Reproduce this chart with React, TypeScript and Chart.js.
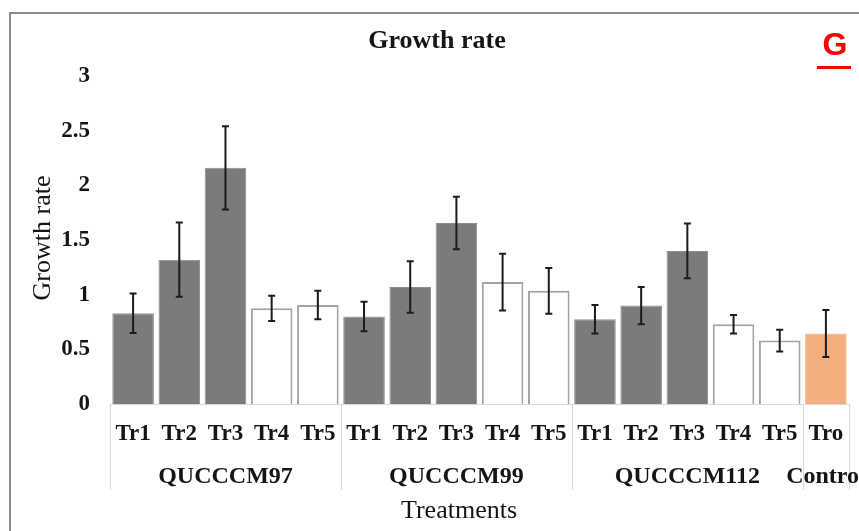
import React, { useEffect, useRef } from "react";
import { Chart, registerables } from "chart.js";

Chart.register(...registerables);

// Treatment labels along the first axis level
const treatments = [
  "Tr1", "Tr2", "Tr3", "Tr4", "Tr5",
  "Tr1", "Tr2", "Tr3", "Tr4", "Tr5",
  "Tr1", "Tr2", "Tr3", "Tr4", "Tr5",
  "Tro",
];

// Strain groups on the second axis level, and how many treatments each spans
const groups = ["QUCCCM97", "QUCCCM99", "QUCCCM112", "Control"];
const groupSizes = [5, 5, 5, 1];

// Mean growth rate per treatment
const growthRate = [
  0.83, 1.32, 2.16, 0.875, 0.905,
  0.8, 1.07, 1.655, 1.115, 1.035,
  0.775, 0.9, 1.4, 0.73, 0.58,
  0.645,
];

// Error (± half-range) per treatment
const growthError = [
  0.18, 0.34, 0.38, 0.115, 0.13,
  0.135, 0.235, 0.24, 0.26, 0.21,
  0.13, 0.17, 0.25, 0.085, 0.1,
  0.215,
];

// Bar style kinds: filled, open, control
const barKinds = [
  "fill", "fill", "fill", "open", "open",
  "fill", "fill", "fill", "open", "open",
  "fill", "fill", "fill", "open", "open",
  "control",
];

const yTicks = [0, 0.5, 1, 1.5, 2, 2.5, 3];

const SERIF = "'Liberation Serif', 'Times New Roman', serif";
const SANS = "'Liberation Sans', Arial, sans-serif";

const fillFor = (k: string) =>
  k === "fill" ? "#7b7b7b" : k === "open" ? "#ffffff" : "#f4ad7c";
const borderFor = (k: string) =>
  k === "fill" ? "#8e8e8e" : k === "open" ? "#a3a3a3" : "#f4ad7c";
const borderWidthFor = (k: string) => (k === "open" ? 2 : 1);

const errorBarsPlugin = {
  id: "errorBars",
  afterDatasetsDraw(chart: any) {
    const { ctx } = chart;
    const yScale = chart.scales.y;
    const meta = chart.getDatasetMeta(0);
    ctx.save();
    ctx.strokeStyle = "#1c1c1c";
    ctx.lineWidth = 2;
    meta.data.forEach((bar: any, i: number) => {
      const v = growthRate[i];
      const e = growthError[i];
      const yTop = yScale.getPixelForValue(v + e);
      const yBot = yScale.getPixelForValue(v - e);
      const x = bar.x;
      ctx.beginPath();
      ctx.moveTo(x, yTop);
      ctx.lineTo(x, yBot);
      ctx.moveTo(x - 3.5, yTop);
      ctx.lineTo(x + 3.5, yTop);
      ctx.moveTo(x - 3.5, yBot);
      ctx.lineTo(x + 3.5, yBot);
      ctx.stroke();
    });
    ctx.restore();
  },
};

const decorPlugin = {
  id: "decor",
  afterDraw(chart: any) {
    const { ctx, chartArea } = chart;
    const xScale = chart.scales.x;
    const n = treatments.length;
    const step = (chartArea.right - chartArea.left) / n;
    ctx.save();

    // outer frame
    ctx.strokeStyle = "#8a8a8a";
    ctx.lineWidth = 2;
    ctx.beginPath();
    ctx.moveTo(10, chart.height);
    ctx.lineTo(10, 13);
    ctx.lineTo(chart.width, 13);
    ctx.stroke();

    // category axis line and group separators
    ctx.strokeStyle = "#d9d9d9";
    ctx.lineWidth = 1;
    ctx.beginPath();
    ctx.moveTo(chartArea.left, chartArea.bottom + 0.5);
    ctx.lineTo(chartArea.right, chartArea.bottom + 0.5);
    let idx = 0;
    const bounds = [0];
    groupSizes.forEach((s) => {
      idx += s;
      bounds.push(idx);
    });
    bounds.forEach((b) => {
      const x = Math.round(xScale.getPixelForValue(b) - step / 2) + 0.5;
      ctx.moveTo(x, chartArea.bottom);
      ctx.lineTo(x, chartArea.bottom + 86);
    });
    ctx.stroke();

    // group labels
    ctx.fillStyle = "#151515";
    ctx.font = `bold 24px ${SERIF}`;
    ctx.textAlign = "center";
    ctx.textBaseline = "middle";
    let start = 0;
    groups.forEach((g, gi) => {
      const end = start + groupSizes[gi] - 1;
      const cx = (xScale.getPixelForValue(start) + xScale.getPixelForValue(end)) / 2;
      ctx.fillText(g, cx, 477);
      start += groupSizes[gi];
    });

    // axis titles
    ctx.font = `26px ${SERIF}`;
    ctx.fillText("Treatments", 459, 511);
    ctx.save();
    ctx.translate(43, 238);
    ctx.rotate(-Math.PI / 2);
    ctx.fillText("Growth rate", 0, 0);
    ctx.restore();

    // chart title
    ctx.font = `bold 26px ${SERIF}`;
    ctx.fillText("Growth rate", 437, 41);

    // panel letter
    ctx.fillStyle = "#ff0000";
    ctx.font = `bold 32px ${SANS}`;
    ctx.fillText("G", 835, 46);
    ctx.fillRect(817, 66, 34, 3);

    ctx.restore();
  },
};

export default function App() {
  const canvasRef = useRef<HTMLCanvasElement | null>(null);

  useEffect(() => {
    if (!canvasRef.current) return;
    const chart = new Chart(canvasRef.current, {
      type: "bar",
      data: {
        labels: treatments,
        datasets: [
          {
            label: "Growth rate",
            data: growthRate,
            backgroundColor: barKinds.map(fillFor),
            borderColor: barKinds.map(borderFor),
            borderWidth: barKinds.map(borderWidthFor),
            barPercentage: 0.9,
            categoryPercentage: 1,
          },
        ],
      },
      options: {
        responsive: false,
        animation: false,
        devicePixelRatio: 1,
        layout: { padding: { top: 76, left: 0, right: 10, bottom: 0 } },
        plugins: {
          legend: { display: false },
          title: { display: false },
          tooltip: { enabled: false },
        },
        scales: {
          x: {
            grid: { display: false, drawTicks: false },
            border: { display: false },
            ticks: {
              color: "#151515",
              font: { family: SERIF, size: 23, weight: "bold" },
              padding: 16,
              maxRotation: 0,
              autoSkip: false,
            },
            afterFit(scale: any) {
              scale.height = 127;
              scale.paddingLeft = 0;
              scale.paddingRight = 0;
            },
          },
          y: {
            min: 0,
            max: 3,
            grid: { display: false, drawTicks: false },
            border: { display: false },
            afterBuildTicks(scale: any) {
              scale.ticks = yTicks.map((v) => ({ value: v }));
            },
            ticks: {
              color: "#151515",
              font: { family: SERIF, size: 23, weight: "bold" },
              padding: 20,
              callback: (v: any) => String(v),
            },
            afterFit(scale: any) {
              scale.width = 110;
            },
          },
        },
      },
      plugins: [errorBarsPlugin, decorPlugin],
    });
    return () => chart.destroy();
  }, []);

  return (
    <div style={{ position: "absolute", left: 0, top: 0, width: 859, height: 531, background: "#ffffff", overflow: "hidden" }}>
      <canvas ref={canvasRef} width={859} height={531} style={{ width: 859, height: 531, display: "block" }} />
    </div>
  );
}
